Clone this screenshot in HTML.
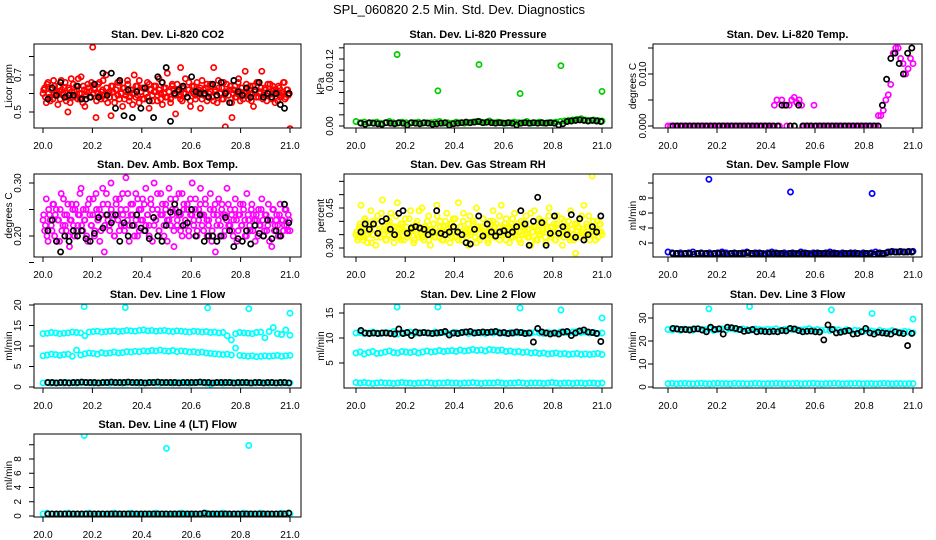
<!DOCTYPE html>
<html>
<head>
<meta charset="utf-8">
<style>
html,body{margin:0;padding:0;background:#fff;}
svg{display:block;}
text{font-family:"Liberation Sans",Arial,sans-serif;fill:#000;}
</style>
</head>
<body>
<svg id="chart" width="936" height="540" viewBox="0 0 936 540" xmlns="http://www.w3.org/2000/svg">
<rect x="0" y="0" width="936" height="540" fill="#fff"/>
<text x="459" y="14" font-size="13" text-anchor="middle">SPL_060820  2.5 Min. Std. Dev. Diagnostics</text>
</svg>
<script>
// ---------- data ----------
const xTickValues = [20.0, 20.2, 20.4, 20.6, 20.8, 21.0];
const xTickLabels = ["20.0", "20.2", "20.4", "20.6", "20.8", "21.0"];
const denseStart = 20.0, denseEnd = 21.0;
const dense2Start = 20.003, dense2End = 20.997;
const blackStart = 20.02, blackEnd = 20.995;
const outlierTimes = [20.167, 20.333, 20.5, 20.667, 20.833, 21.0];

const co2Red = [0.60,0.63,0.55,0.66,0.58,0.62,0.57,0.64,0.60,0.54,0.61,0.67,0.59,0.63,0.56,0.50,0.62,0.68,0.58,0.61,0.64,0.57,0.60,0.69,0.55,0.62,0.59,0.65,0.61,0.58,0.85,0.63,0.47,0.60,0.66,0.57,0.62,0.59,0.70,0.55,0.61,0.48,0.64,0.58,0.62,0.66,0.57,0.60,0.53,0.63,0.59,0.67,0.56,0.62,0.60,0.70,0.58,0.64,0.55,0.61,0.63,0.57,0.60,0.66,0.52,0.62,0.59,0.64,0.61,0.56,0.68,0.60,0.54,0.63,0.58,0.71,0.61,0.57,0.65,0.60,0.49,0.62,0.59,0.74,0.56,0.63,0.60,0.58,0.66,0.53,0.61,0.64,0.57,0.60,0.62,0.52,0.67,0.59,0.63,0.56,0.60,0.65,0.58,0.74,0.61,0.55,0.63,0.60,0.57,0.66,0.42,0.61,0.59,0.64,0.47,0.62,0.58,0.60,0.68,0.56,0.63,0.59,0.72,0.61,0.57,0.64,0.60,0.53,0.62,0.66,0.58,0.61,0.72,0.59,0.63,0.56,0.60,0.65,0.57,0.62,0.55,0.61,0.64,0.58,0.60,0.66,0.57,0.62,0.59,0.41];
const co2Red2 = [0.62,0.58,0.65,0.60,0.56,0.63,0.67,0.59,0.61,0.64,0.57,0.62,0.60,0.66,0.58,0.63,0.55,0.61,0.65,0.59,0.62,0.68,0.57,0.60,0.64,0.53,0.61,0.63,0.58,0.66,0.60,0.62,0.56,0.65,0.59,0.61,0.67,0.57,0.63,0.60,0.58,0.64,0.61,0.55,0.62,0.59,0.66,0.60,0.63,0.57,0.61,0.65,0.58,0.62,0.54,0.60,0.64,0.59,0.67,0.61,0.57,0.63,0.60,0.58,0.65,0.62,0.56,0.61,0.64,0.59,0.62,0.57,0.66,0.60,0.63,0.58,0.61,0.55,0.64,0.62,0.59,0.65,0.61,0.57,0.63,0.60,0.68,0.58,0.62,0.56,0.64,0.60,0.59,0.66,0.61,0.63,0.57,0.62,0.60,0.65,0.58,0.61,0.64,0.56,0.62,0.59,0.67,0.60,0.63,0.57,0.61,0.65,0.59,0.62,0.55,0.60,0.64,0.58,0.66,0.61,0.63,0.57,0.60,0.65,0.59,0.62,0.56,0.64,0.61,0.58,0.66,0.60,0.63,0.57,0.62,0.59,0.65,0.61,0.58,0.64,0.60,0.62,0.56,0.63,0.59,0.61,0.66,0.58,0.62,0.60];
const co2Black = [0.57,0.63,0.59,0.66,0.58,0.59,0.59,0.64,0.57,0.57,0.58,0.65,0.58,0.71,0.59,0.71,0.52,0.67,0.48,0.62,0.47,0.61,0.52,0.63,0.56,0.47,0.69,0.66,0.74,0.45,0.60,0.62,0.64,0.58,0.69,0.61,0.60,0.60,0.58,0.65,0.59,0.66,0.60,0.55,0.67,0.61,0.59,0.63,0.58,0.62,0.66,0.58,0.60,0.58,0.60,0.54,0.52,0.60];

const presGreen = [0.008,0.006,0.007,0.005,0.006,0.007,0.005,0.006,0.008,0.006,0.005,0.007,0.006,0.005,0.006,0.007,0.005,0.006,0.006,0.007,0.008,0.005,0.006,0.005,0.007,0.006,0.005,0.006,0.007,0.008,0.007,0.006,0.009,0.006,0.007,0.006,0.005,0.006,0.007,0.006,0.006,0.008,0.005,0.006,0.007,0.005,0.006,0.006,0.007,0.008,0.009,0.010,0.011,0.012,0.013,0.011,0.010,0.011,0.010,0.009];
const presGreenOut = [0.128,0.063,0.110,0.058,0.108,0.062];
const presBlack = [0.005,0.003,0.006,0.005,0.004,0.003,0.006,0.005,0.004,0.006,0.005,0.002,0.006,0.005,0.004,0.006,0.005,0.003,0.004,0.005,0.006,0.002,0.004,0.005,0.006,0.007,0.006,0.007,0.008,0.006,0.007,0.006,0.005,0.006,0.005,0.006,0.005,0.002,0.005,0.006,0.005,0.006,0.005,0.006,0.005,0.006,0.005,0.002,0.004,0.008,0.009,0.010,0.011,0.010,0.009,0.010,0.009,0.008];

const tempMagenta = [0,0,0,0,0,0,0,0,0,0,0,0,0,0,0,0,0,0,0,0,0,0,0,0,0,0,0,0,0,0,0,0,0,0,0,0,0,0,0,0,0,0,0,0.004,0.005,0,0.005,0.004,0,0.004,0.005,0.0055,0.0045,0.005,0.004,0,0,0,0,0.004,0,0,0,0,0,0,0,0,0,0,0,0,0,0,0,0,0,0,0,0,0,0,0,0,0,0.002,0.002,0.003,0.005,0.006,0.008,0.014,0.015,0.015,0.013,0.012,0.010,0.011,0.013,0.012];
const tempBlack = [0,0,0,0,0,0,0,0,0,0,0,0,0,0,0,0,0,0,0,0,0,0,0,0,0,0,0.004,0.004,0,0,0.004,0,0,0,0,0,0,0,0,0,0,0,0,0,0,0,0,0,0,0,0.004,0.009,0.013,0.014,0.012,0.010,0.014,0.015];

const ambMagenta = [0.23,0.21,0.27,0.19,0.24,0.22,0.26,0.20,0.25,0.23,0.19,0.28,0.22,0.24,0.21,0.26,0.18,0.23,0.25,0.20,0.26,0.22,0.24,0.29,0.21,0.23,0.25,0.19,0.27,0.22,0.24,0.20,0.28,0.23,0.25,0.21,0.29,0.17,0.24,0.26,0.22,0.30,0.23,0.20,0.27,0.24,0.21,0.25,0.28,0.22,0.31,0.23,0.19,0.26,0.24,0.22,0.28,0.20,0.25,0.23,0.27,0.21,0.29,0.24,0.22,0.26,0.19,0.30,0.23,0.25,0.21,0.28,0.24,0.20,0.26,0.23,0.29,0.22,0.25,0.18,0.27,0.23,0.24,0.21,0.28,0.25,0.22,0.26,0.20,0.24,0.30,0.23,0.27,0.21,0.25,0.29,0.22,0.24,0.26,0.20,0.23,0.28,0.21,0.25,0.17,0.24,0.27,0.22,0.26,0.20,0.24,0.29,0.22,0.25,0.21,0.23,0.27,0.19,0.24,0.26,0.22,0.25,0.20,0.28,0.23,0.21,0.26,0.24,0.19,0.23,0.25,0.22,0.27,0.20,0.24,0.21,0.26,0.23,0.18,0.25,0.22,0.24,0.20,0.26,0.23,0.21,0.25,0.22,0.24,0.21];
const ambMagenta2 = [0.24,0.22,0.20,0.25,0.23,0.21,0.26,0.24,0.19,0.23,0.25,0.21,0.27,0.22,0.24,0.20,0.23,0.26,0.22,0.25,0.21,0.24,0.28,0.22,0.25,0.23,0.20,0.26,0.24,0.22,0.27,0.21,0.25,0.23,0.19,0.24,0.26,0.22,0.28,0.23,0.21,0.25,0.24,0.20,0.26,0.23,0.27,0.22,0.24,0.21,0.25,0.28,0.22,0.24,0.26,0.20,0.23,0.27,0.21,0.25,0.23,0.26,0.22,0.24,0.20,0.27,0.25,0.22,0.23,0.28,0.21,0.24,0.26,0.22,0.25,0.19,0.23,0.27,0.24,0.21,0.25,0.22,0.28,0.24,0.20,0.26,0.23,0.25,0.21,0.27,0.24,0.22,0.25,0.20,0.23,0.26,0.24,0.21,0.27,0.23,0.22,0.25,0.19,0.24,0.26,0.22,0.23,0.20,0.25,0.24,0.21,0.23,0.26,0.22,0.24,0.20,0.25,0.23,0.21,0.24,0.22,0.26,0.23,0.20,0.24,0.22,0.25,0.21,0.23,0.24,0.20,0.22,0.25,0.23,0.21,0.24,0.22,0.19,0.23,0.25,0.21,0.23,0.22,0.24,0.20,0.23,0.22,0.25,0.21,0.23];
const ambBlack = [0.21,0.23,0.19,0.17,0.20,0.19,0.21,0.20,0.21,0.195,0.19,0.205,0.235,0.215,0.24,0.225,0.24,0.19,0.225,0.20,0.22,0.24,0.215,0.21,0.195,0.235,0.20,0.19,0.22,0.245,0.26,0.245,0.22,0.225,0.25,0.20,0.24,0.19,0.20,0.20,0.19,0.20,0.235,0.21,0.18,0.195,0.19,0.21,0.185,0.22,0.205,0.20,0.23,0.195,0.21,0.20,0.26,0.225];

const rhYellow = [0.35,0.33,0.38,0.46,0.36,0.34,0.40,0.32,0.37,0.44,0.35,0.39,0.31,0.42,0.36,0.34,0.48,0.37,0.33,0.40,0.35,0.43,0.38,0.32,0.36,0.47,0.34,0.39,0.37,0.33,0.41,0.36,0.35,0.44,0.38,0.32,0.37,0.40,0.34,0.36,0.45,0.33,0.38,0.35,0.42,0.31,0.37,0.39,0.34,0.46,0.36,0.40,0.33,0.38,0.35,0.43,0.37,0.32,0.39,0.41,0.34,0.36,0.47,0.38,0.33,0.40,0.35,0.37,0.31,0.42,0.36,0.39,0.34,0.45,0.37,0.33,0.38,0.41,0.35,0.36,0.32,0.40,0.37,0.44,0.34,0.39,0.36,0.33,0.46,0.38,0.35,0.41,0.37,0.32,0.39,0.34,0.43,0.36,0.38,0.33,0.40,0.35,0.37,0.42,0.34,0.39,0.31,0.36,0.44,0.38,0.33,0.41,0.35,0.37,0.40,0.32,0.38,0.45,0.34,0.36,0.39,0.33,0.42,0.37,0.35,0.31,0.40,0.36,0.38,0.34,0.44,0.37,0.33,0.28,0.39,0.35,0.41,0.36,0.46,0.34,0.38,0.42,0.35,0.57,0.37,0.33,0.40,0.36,0.39,0.35];
const rhYellow2 = [0.36,0.34,0.39,0.37,0.33,0.41,0.35,0.38,0.36,0.32,0.40,0.37,0.34,0.39,0.36,0.43,0.35,0.38,0.33,0.37,0.40,0.36,0.34,0.38,0.42,0.35,0.37,0.33,0.39,0.36,0.38,0.34,0.41,0.36,0.37,0.33,0.39,0.35,0.44,0.37,0.34,0.38,0.36,0.40,0.33,0.37,0.35,0.39,0.36,0.42,0.34,0.38,0.36,0.33,0.40,0.37,0.35,0.39,0.34,0.36,0.41,0.37,0.33,0.38,0.35,0.43,0.36,0.34,0.39,0.37,0.35,0.40,0.36,0.32,0.38,0.37,0.34,0.41,0.36,0.39,0.33,0.37,0.35,0.40,0.38,0.34,0.36,0.42,0.35,0.37,0.39,0.33,0.36,0.38,0.34,0.41,0.37,0.35,0.39,0.36,0.32,0.38,0.40,0.35,0.37,0.34,0.43,0.36,0.38,0.33,0.37,0.35,0.40,0.36,0.39,0.34,0.37,0.42,0.35,0.38,0.36,0.33,0.39,0.37,0.35,0.41,0.34,0.38,0.36,0.40,0.33,0.37,0.35,0.39,0.36,0.38,0.34,0.42,0.37,0.35,0.39,0.36,0.33,0.38,0.40,0.35,0.37,0.34,0.39,0.36];
const rhBlack = [0.36,0.39,0.37,0.39,0.355,0.40,0.41,0.37,0.35,0.43,0.44,0.355,0.375,0.38,0.375,0.37,0.35,0.36,0.44,0.355,0.35,0.36,0.38,0.36,0.35,0.32,0.315,0.37,0.42,0.345,0.39,0.36,0.345,0.36,0.365,0.35,0.36,0.38,0.44,0.39,0.31,0.40,0.49,0.395,0.31,0.355,0.42,0.355,0.38,0.35,0.425,0.34,0.41,0.33,0.35,0.38,0.36,0.42];

const sampleBlue = [0.8,0.7,0.6,0.7,0.6,0.7,0.8,0.6,0.7,0.6,0.7,0.6,0.7,0.8,0.7,0.6,0.7,0.6,0.7,0.8,0.6,0.7,0.7,0.6,0.7,0.8,0.7,0.6,0.7,0.6,0.7,0.6,0.8,0.7,0.6,0.7,0.7,0.6,0.7,0.8,0.7,0.6,0.7,0.6,0.7,0.7,0.6,0.7,0.6,0.7,0.8,0.7,0.6,0.8,0.9,0.8,0.9,0.8,0.9,0.9];
const sampleBlueOut = [10.5,null,8.8,null,8.6,null];
const sampleBlack = [0.6,0.6,0.5,0.6,0.6,0.5,0.6,0.6,0.6,0.5,0.6,0.6,0.6,0.5,0.6,0.6,0.6,0.6,0.7,0.6,0.6,0.6,0.5,0.6,0.6,0.6,0.6,0.5,0.6,0.6,0.6,0.6,0.6,0.5,0.6,0.6,0.6,0.6,0.6,0.6,0.5,0.6,0.6,0.6,0.6,0.5,0.6,0.6,0.5,0.6,0.6,0.7,0.8,0.8,0.8,0.8,0.8,0.8];

const line1Top = [13.0,13.1,13.3,13.2,13.0,13.1,13.2,13.4,13.3,13.2,12.5,13.4,13.5,13.6,13.4,13.5,13.6,13.7,13.5,13.6,13.8,13.7,13.6,13.8,13.9,13.7,13.8,13.6,13.7,13.8,13.6,13.5,13.7,13.6,13.5,13.4,13.6,13.5,13.4,13.5,13.3,13.4,13.2,13.3,12.5,11.5,13.0,13.3,13.2,13.1,13.0,13.3,13.4,12.0,13.5,14.5,13.0,12.8,13.9,12.6];
const line1Mid = [7.6,7.8,8.0,7.9,7.7,7.9,8.0,7.5,9.0,7.8,8.1,8.3,8.2,8.0,8.4,8.2,8.3,8.5,8.3,8.4,8.6,8.5,8.7,8.6,8.8,8.7,8.9,8.8,9.0,8.8,8.7,8.9,8.6,8.8,8.7,8.5,8.6,8.4,8.5,8.3,8.2,8.1,8.0,7.9,8.0,7.8,9.5,7.7,7.6,7.5,7.6,7.4,7.5,7.6,7.5,7.6,7.7,7.5,7.6,7.7];
const line1Low = [1.0,1.1,0.9,1.0,1.0,0.9,1.1,1.0,0.9,1.0,1.1,1.0,0.9,1.0,1.0,1.1,0.9,1.0,1.0,0.9,1.0,1.1,1.0,0.9,1.0,1.0,1.1,1.0,0.9,1.0,1.0,0.9,1.1,1.0,1.0,0.9,1.0,1.1,1.0,0.9,0.7,1.0,1.0,0.9,1.0,1.1,1.0,0.9,1.0,1.0,0.9,1.0,1.1,1.0,0.9,1.0,1.0,0.9,1.0,1.0];
const line1Out = [19.6,19.4,null,19.3,19.1,18.0];
const line1Black = [1.1,1.1,1.0,1.1,1.1,1.0,1.1,1.1,1.2,1.1,1.1,1.1,1.0,1.1,1.1,1.2,1.1,1.1,1.1,1.2,1.1,1.1,1.1,1.0,1.1,1.1,1.2,1.1,1.1,1.1,1.1,1.0,1.1,1.1,1.1,1.1,1.2,1.1,1.1,1.0,1.1,1.1,1.1,1.1,1.0,1.1,1.1,1.1,1.0,1.1,1.1,1.0,1.1,1.1,1.0,1.1,1.1,1.0];

const line2Top = [11.0,11.1,10.9,11.0,11.2,11.0,10.9,11.1,11.0,11.3,10.8,11.1,11.0,11.2,10.9,11.0,11.1,11.0,10.9,11.2,11.0,11.1,10.9,11.0,11.1,11.0,11.2,10.9,11.0,11.1,11.0,10.9,11.1,11.0,11.2,11.0,10.9,11.1,11.0,11.0,11.1,10.9,11.0,11.2,11.0,10.9,11.1,11.0,11.0,11.2,11.1,11.0,11.2,11.3,11.1,11.2,11.0,11.1,10.9,11.0];
const line2Mid = [7.0,7.2,6.8,7.1,7.3,6.9,7.0,7.2,7.4,7.1,7.0,7.3,7.2,7.1,7.3,7.0,7.2,7.4,7.2,7.3,7.5,7.3,7.4,7.5,7.3,7.6,7.4,7.5,7.7,7.5,7.6,7.4,7.7,7.6,7.5,7.6,7.3,7.4,7.2,7.3,7.1,7.2,7.0,7.1,6.9,7.0,6.8,6.9,7.0,6.8,6.9,6.7,6.8,6.9,6.7,6.8,6.7,6.8,6.9,6.7];
const line2Low = [1.1,1.0,1.1,1.0,0.9,1.0,1.1,1.0,1.0,0.9,1.0,1.1,1.0,1.0,0.9,1.0,1.0,1.1,1.0,0.9,1.0,1.0,1.1,1.0,1.0,0.9,1.0,1.0,1.1,1.0,0.9,1.0,1.0,1.0,1.1,1.0,0.9,1.0,1.0,1.1,1.0,0.9,1.0,1.0,1.0,0.9,1.0,1.1,1.0,0.9,1.0,1.0,0.9,1.0,1.0,0.9,1.0,1.0,0.9,1.0];
const line2Out = [16.2,16.2,null,16.0,15.6,14.0];
const line2Black = [11.5,11.0,10.9,11.0,10.9,11.0,11.0,10.9,10.8,11.8,10.9,11.1,10.5,11.2,11.0,11.1,11.0,10.9,11.0,11.1,11.3,10.6,11.0,10.9,11.1,11.2,11.3,11.0,11.1,11.2,11.1,11.2,11.3,11.0,11.1,10.9,11.0,11.2,11.1,10.9,11.0,9.2,11.9,11.2,11.0,10.8,11.0,10.8,11.2,11.3,10.5,11.0,11.4,11.6,11.2,11.1,10.9,9.3];

const line3Top = [25.0,24.8,25.5,24.6,25.2,25.0,24.7,25.3,25.1,24.9,25.4,24.6,25.0,25.2,24.8,25.5,25.1,24.9,25.3,25.0,24.7,25.2,25.0,24.8,25.1,24.9,25.3,24.7,25.0,25.2,24.9,25.1,24.8,25.0,25.4,24.7,25.0,24.6,24.9,24.5,25.1,24.8,24.4,24.9,24.3,24.7,24.5,24.2,24.8,24.4,24.0,24.6,24.2,23.9,24.5,24.1,23.8,24.2,23.9,23.6];
const line3Low = [1.5,1.6,1.4,1.5,1.6,1.5,1.4,1.5,1.6,1.5,1.4,1.5,1.6,1.5,1.5,1.4,1.6,1.5,1.5,1.4,1.5,1.6,1.5,1.4,1.5,1.5,1.6,1.5,1.4,1.5,1.5,1.6,1.4,1.5,1.5,1.6,1.5,1.4,1.5,1.5,1.6,1.5,1.4,1.5,1.5,1.6,1.5,1.4,1.5,1.5,1.4,1.5,1.6,1.5,1.4,1.5,1.5,1.4,1.5,1.5];
const line3Out = [34.0,35.0,null,33.5,32.0,29.5];
const line3Black = [25.5,25.2,25.0,25.0,24.8,25.2,25.3,24.8,24.0,26.0,25.0,25.3,23.0,26.0,25.8,25.5,25.0,24.2,24.5,25.0,24.0,24.3,24.1,24.0,24.2,24.0,24.5,24.4,25.5,25.2,24.5,24.0,24.2,24.3,24.0,23.9,20.5,27.0,25.0,23.5,23.8,24.2,24.5,23.0,23.2,24.0,25.5,23.5,23.0,23.8,23.5,23.3,23.0,24.0,23.5,23.2,18.0,23.3];

const line4Band = [0.3,0.4,0.3,0.2,0.3,0.3,0.4,0.3,0.3,0.2,0.3,0.4,0.3,0.3,0.3,0.2,0.3,0.4,0.3,0.3,0.3,0.4,0.3,0.2,0.3,0.3,0.3,0.4,0.3,0.3,0.2,0.3,0.3,0.4,0.3,0.3,0.3,0.2,0.3,0.4,0.3,0.3,0.3,0.4,0.3,0.2,0.3,0.3,0.4,0.3,0.3,0.3,0.4,0.3,0.3,0.2,0.3,0.4,0.3,0.3];
const line4Out = [11.3,null,9.5,null,9.9,null];
const line4Black = [0.3,0.3,0.3,0.3,0.3,0.3,0.3,0.3,0.3,0.3,0.3,0.3,0.3,0.3,0.3,0.3,0.3,0.3,0.3,0.3,0.3,0.3,0.3,0.3,0.3,0.3,0.3,0.3,0.3,0.3,0.3,0.3,0.3,0.3,0.3,0.3,0.3,0.4,0.3,0.3,0.3,0.3,0.3,0.3,0.3,0.3,0.3,0.3,0.3,0.3,0.3,0.3,0.3,0.3,0.3,0.3,0.3,0.4];

// ---------- layout ----------
const NS = "http://www.w3.org/2000/svg";
const svg = document.getElementById("chart");
const cols = [{l:34,r:301,x0:43,x1:290,tl:8,ll:17},{l:344,r:612,x0:356,x1:602,tl:320,ll:329},{l:653,r:922,x0:668,x1:913,tl:632,ll:642}];
const rows = [{t:44,b:128},{t:174,b:257},{t:304,b:388},{t:434,b:517}];

function mk(tag, attrs, parent){
  const e = document.createElementNS(NS, tag);
  for (const k in attrs) e.setAttribute(k, attrs[k]);
  (parent||svg).appendChild(e);
  return e;
}

function drawPanel(p){
  const c = cols[p.col], r = rows[p.row];
  const g = mk("g", {});
  
  
  const xs = v => c.x0 + (v - 20) * (c.x1 - c.x0);
  const ys = v => p.p0 + (v - p.v0) * (p.p1 - p.p0) / (p.v1 - p.v0);
  const clipId = "clip-" + p.name;
  const cp = mk("clipPath", {id: clipId}, g);
  mk("rect", {x:c.l, y:r.t, width:c.r-c.l, height:r.b-r.t}, cp);
  const pts = mk("g", {"clip-path":"url(#"+clipId+")", fill:"none", "stroke-width":"1.7"}, g);
  
  
  p.series.forEach(s => {
    const n = s.values.length;
    s.values.forEach((v, i) => {
      if (v === null) return;
      let t;
      if (s.times) t = s.times[i];
      else t = s.start + (n > 1 ? i * (s.end - s.start) / (n - 1) : 0);
      const ci = mk("circle", {cx: xs(t).toFixed(1), cy: ys(v).toFixed(1), r: 2.6, stroke: s.color}, pts);
      
      
    });
  });
  const box = mk("rect", {x:c.l, y:r.t, width:c.r-c.l, height:r.b-r.t, fill:"none", stroke:"#000", "stroke-width":"1"}, g);
  
  
  xTickValues.forEach((v, i) => {
    const x = xs(v);
    mk("line", {x1:x, x2:x, y1:r.b, y2:r.b+5, stroke:"#000"}, g);
    const tx = mk("text", {x:x, y:r.b+21, "font-size":"10", "text-anchor":"middle"}, g);
    tx.textContent = xTickLabels[i];
    
    
  });
  p.yTicks.forEach((v, i) => {
    const y = ys(v);
    mk("line", {x1:c.l-5, x2:c.l, y1:y, y2:y, stroke:"#000"}, g);
    if (p.yLabels[i]) {
      const tx = mk("text", {x:c.ll+4, y:y, "font-size":"10", "text-anchor":"middle", transform:"rotate(-90 "+(c.ll+4)+" "+y+")"}, g);
      tx.textContent = p.yLabels[i];
      
      
    }
  });
  const my = (r.t + r.b) / 2;
  const yt = mk("text", {x:c.tl+4, y:my, "font-size":"10", "text-anchor":"middle", transform:"rotate(-90 "+(c.tl+4)+" "+my+")"}, g);
  yt.textContent = p.ylab;
  
  
  const tt = mk("text", {x:(c.l+c.r)/2, y:r.t-6, "font-size":"11", "font-weight":"bold", "text-anchor":"middle"}, g);
  tt.textContent = p.title;
  
  
}

const dense = (name, values, color) => ({name, values, color, start: denseStart, end: denseEnd});
const dense2 = (name, values, color) => ({name, values, color, start: dense2Start, end: dense2End});
const black = (name, values) => ({name, values, color: "#000", start: blackStart, end: blackEnd});
const outl = (name, values, color) => ({name, values, color, times: outlierTimes});

const panels = [
  {name:"co2", col:0, row:0, title:"Stan. Dev. Li-820 CO2", ylab:"Licor ppm", v0:0.5, p0:112, v1:0.7, p1:75,
   yTicks:[0.5,0.6,0.7,0.8], yLabels:["0.5","","0.7",""],
   series:[dense("co2-red", co2Red, "#ff0000"), dense2("co2-red-b", co2Red2, "#ff0000"), black("co2-black", co2Black)]},
  {name:"pressure", col:1, row:0, title:"Stan. Dev. Li-820 Pressure", ylab:"kPa", v0:0, p0:126, v1:0.12, p1:59,
   yTicks:[0,0.02,0.04,0.06,0.08,0.10,0.12,0.14], yLabels:["0.00","","","","0.08","","0.12",""],
   series:[dense("pressure-green", presGreen, "#00cc00"), outl("pressure-green-outlier", presGreenOut, "#00cc00"), black("pressure-black", presBlack)]},
  {name:"temp", col:2, row:0, title:"Stan. Dev. Li-820 Temp.", ylab:"degrees C", v0:0, p0:126, v1:0.01, p1:74,
   yTicks:[0,0.005,0.010,0.015], yLabels:["0.000","","0.010",""],
   series:[dense("temp-magenta", tempMagenta, "#ff00ff"), black("temp-black", tempBlack)]},
  {name:"amb-box", col:0, row:1, title:"Stan. Dev. Amb. Box Temp.", ylab:"degrees C", v0:0.2, p0:236, v1:0.3, p1:183,
   yTicks:[0.15,0.20,0.25,0.30], yLabels:["","0.20","","0.30"],
   series:[dense("amb-magenta", ambMagenta, "#ff00ff"), dense2("amb-magenta-b", ambMagenta2, "#ff00ff"), black("amb-black", ambBlack)]},
  {name:"rh", col:1, row:1, title:"Stan. Dev. Gas Stream RH", ylab:"percent", v0:0.30, p0:248, v1:0.45, p1:208,
   yTicks:[0.30,0.35,0.40,0.45,0.50,0.55], yLabels:["0.30","","","0.45","",""],
   series:[dense("rh-yellow", rhYellow, "#ffff00"), dense2("rh-yellow-b", rhYellow2, "#ffff00"), black("rh-black", rhBlack)]},
  {name:"sample-flow", col:2, row:1, title:"Stan. Dev. Sample Flow", ylab:"ml/min", v0:2, p0:243, v1:8, p1:198,
   yTicks:[2,4,6,8,10], yLabels:["2","4","6","8",""],
   series:[dense("sample-blue", sampleBlue, "#0000ff"), outl("sample-blue-outlier", sampleBlueOut, "#0000ff"), black("sample-black", sampleBlack)]},
  {name:"line1", col:0, row:2, title:"Stan. Dev. Line 1 Flow", ylab:"ml/min", v0:0, p0:387, v1:20, p1:305,
   yTicks:[0,5,10,15,20], yLabels:["0","5","10","15","20"],
   series:[dense("line1-top", line1Top, "#00ffff"), dense("line1-mid", line1Mid, "#00ffff"), dense("line1-low", line1Low, "#00ffff"), outl("line1-outlier", line1Out, "#00ffff"), black("line1-black", line1Black)]},
  {name:"line2", col:1, row:2, title:"Stan. Dev. Line 2 Flow", ylab:"ml/min", v0:5, p0:363, v1:15, p1:313,
   yTicks:[5,10,15], yLabels:["5","10","15"],
   series:[dense("line2-top", line2Top, "#00ffff"), dense("line2-mid", line2Mid, "#00ffff"), dense("line2-low", line2Low, "#00ffff"), outl("line2-outlier", line2Out, "#00ffff"), black("line2-black", line2Black)]},
  {name:"line3", col:2, row:2, title:"Stan. Dev. Line 3 Flow", ylab:"ml/min", v0:0, p0:387, v1:30, p1:318,
   yTicks:[0,10,20,30], yLabels:["0","10","20","30"],
   series:[dense("line3-top", line3Top, "#00ffff"), dense("line3-low", line3Low, "#00ffff"), outl("line3-outlier", line3Out, "#00ffff"), black("line3-black", line3Black)]},
  {name:"line4", col:0, row:3, title:"Stan. Dev. Line 4 (LT) Flow", ylab:"ml/min", v0:0, p0:516, v1:8, p1:459,
   yTicks:[0,2,4,6,8,10], yLabels:["0","2","4","6","8",""],
   series:[dense("line4-band", line4Band, "#00ffff"), outl("line4-outlier", line4Out, "#00ffff"), black("line4-black", line4Black)]}
];
panels.forEach(drawPanel);
</script>
</body>
</html>
